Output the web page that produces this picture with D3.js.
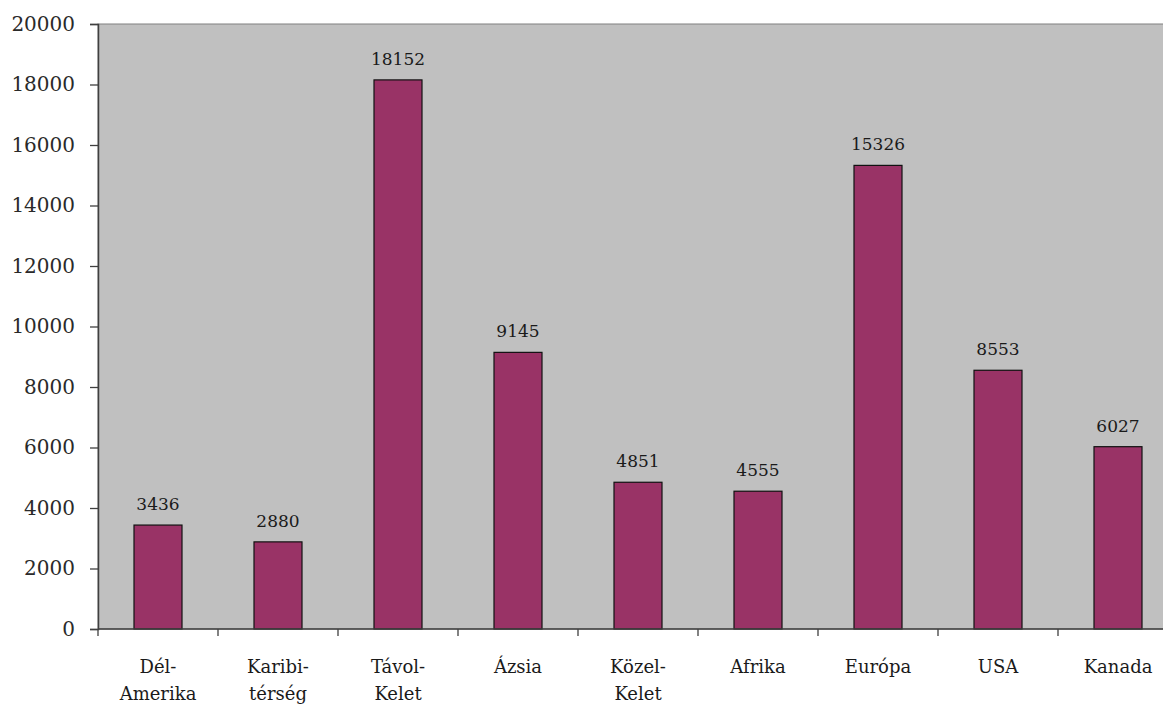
<!DOCTYPE html>
<html>
<head>
<meta charset="utf-8">
<script src="https://cdn.jsdelivr.net/npm/d3@7"></script>
<style>
  html, body { margin: 0; padding: 0; background: #fff; overflow: hidden; }
  svg { display: block; }
</style>
</head>
<body>
<script>
// Regions (two-line labels split on "|")
const categories = ["Dél-|Amerika", "Karibi-|térség", "Távol-|Kelet", "Ázsia", "Közel-|Kelet", "Afrika", "Európa", "USA", "Kanada"];
const values = [3436, 2880, 18152, 9145, 4851, 4555, 15326, 8553, 6027];
const yTicks = [0, 2000, 4000, 6000, 8000, 10000, 12000, 14000, 16000, 18000, 20000];

const FONT = "'DejaVu Serif', serif";

const W = 1163, H = 704;
const margin = { left: 98, top: 24 };
const plotW = 1080, plotH = 605;

const svg = d3.select("body").append("svg").attr("width", W).attr("height", H);
const g = svg.append("g").attr("transform", `translate(${margin.left},${margin.top})`);

const x = d3.scaleBand().domain(categories).range([0, plotW]).paddingInner(0.6).paddingOuter(0.3);
const y = d3.scaleLinear().domain([0, 20000]).range([plotH, 0]);

// plot background
g.append("rect").attr("x", 0).attr("y", 0).attr("width", plotW).attr("height", plotH)
  .attr("fill", "#c0c0c0").attr("stroke", "#808080").attr("stroke-width", 1);

// bars
g.selectAll("rect.bar").data(values).join("rect")
  .attr("class", "bar")
  .attr("x", (d, i) => x(categories[i]))
  .attr("y", d => y(d))
  .attr("width", x.bandwidth())
  .attr("height", d => y(0) - y(d))
  .attr("fill", "#993366")
  .attr("stroke", "#111")
  .attr("stroke-width", 1.2);

// value labels
g.selectAll("text.val").data(values).join("text")
  .attr("class", "val")
  .attr("x", (d, i) => x(categories[i]) + x.bandwidth() / 2)
  .attr("y", d => y(d) - 15)
  .attr("text-anchor", "middle")
  .style("font-family", FONT)
  .style("font-size", "17px")
  .attr("fill", "#1a1a1a")
  .text(d => d);

// y axis
const yAxis = g.append("g").call(d3.axisLeft(y).tickValues(yTicks).tickSize(8).tickPadding(15).tickFormat(d3.format("d")));
yAxis.select(".domain").attr("stroke", "#404040").attr("stroke-width", 1.5);
yAxis.selectAll(".tick line").attr("stroke", "#404040").attr("stroke-width", 1.3);
yAxis.selectAll(".tick text")
  .style("font-family", FONT).style("font-size", "20px").attr("fill", "#2a2a2a");

// x axis: tick marks at band boundaries
const xAxisG = g.append("g").attr("transform", `translate(0,${plotH})`);
xAxisG.append("line").attr("x1", 0).attr("x2", plotW).attr("y1", 0).attr("y2", 0)
  .attr("stroke", "#404040").attr("stroke-width", 1.5);
const step = x.step();
xAxisG.selectAll("line.tk").data(d3.range(categories.length + 1)).join("line")
  .attr("class", "tk")
  .attr("x1", i => i * step).attr("x2", i => i * step)
  .attr("y1", 0).attr("y2", 7)
  .attr("stroke", "#404040").attr("stroke-width", 1.3);

// x labels
const lbl = xAxisG.selectAll("text.cat").data(categories).join("text")
  .attr("class", "cat")
  .attr("text-anchor", "middle")
  .style("font-family", FONT)
  .style("font-size", "18px")
  .attr("fill", "#1a1a1a")
  .attr("transform", d => `translate(${x(d) + x.bandwidth() / 2},0)`);
lbl.each(function(d) {
  const parts = d.split("|");
  const t = d3.select(this);
  parts.forEach((p, k) => {
    t.append("tspan").attr("x", 0).attr("y", 44 + k * 27).text(p);
  });
});
</script>
</body>
</html>
